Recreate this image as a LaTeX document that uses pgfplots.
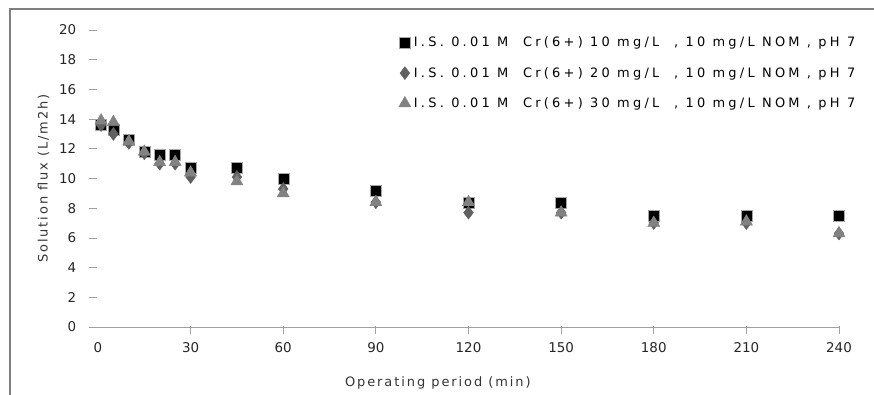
\documentclass[border=0pt]{standalone}
\usepackage{fontspec}
\setmainfont{DejaVu Sans}
\newfontfamily\legfont[LetterSpace=25]{DejaVu Sans}
\newfontfamily\labfont[LetterSpace=15]{DejaVu Sans}
\usepackage{pgfplots}
\pgfplotsset{compat=1.18}
\definecolor{axgray}{HTML}{A0A0A0}
\definecolor{dgray}{HTML}{606060}
\definecolor{mgray}{HTML}{828282}
\begin{document}
\begin{tikzpicture}
\begin{axis}[
  at={(88.7bp,68bp)}, anchor=south west,
  scale only axis, width=750.3bp, height=297bp,
  xmin=-3, xmax=240, ymin=0, ymax=20,
  axis line style={draw=none},
  xtick={30,60,...,240},
  extra x ticks={0}, extra x tick style={major tick length=0pt},
  ytick={0,2,...,20},
  xtick pos=bottom, ytick pos=left,
  tick align=inside, major tick length=8bp,
  ytick style={axgray, line width=0.8pt},
  xtick style={axgray, line width=0.8pt, yshift=-7bp},
  /pgf/number format/assume math mode=true,
  tick label style={font=\fontsize{13.5}{15}\selectfont, text=black!85},
  xticklabel style={yshift=-12bp},
  yticklabel style={xshift=-9bp},
  xlabel={Operating period (min)},
  ylabel={Solution flux (L/m2h)},
  label style={font=\labfont\fontsize{13}{15}\selectfont, text=black!80},
  xlabel style={yshift=-17bp, xshift=-26bp},
  ylabel style={yshift=3bp},
  legend style={draw=none, fill=none, at={(axis cs:96.4,19.8)}, anchor=north west,
    font=\legfont\fontsize{13}{15}\selectfont, row sep=15bp, legend cell align=left,
    nodes={inner xsep=3bp}},
  legend image code/.code={\draw[#1] plot coordinates {(0.2cm,0cm)};},
  clip=false,
]
\draw[axgray, line width=0.8pt] (rel axis cs:0,0) -- (rel axis cs:1,0);
\addplot[only marks, mark=square*, mark size=5.5bp, mark options={fill=black, draw=gray!70, line width=0.4pt}]
 coordinates {(1,13.6)(5,13.3)(10,12.6)(15,11.8)(20,11.6)(25,11.6)(30,10.7)(45,10.7)(60,10.0)(90,9.2)(120,8.4)(150,8.4)(180,7.5)(210,7.5)(240,7.5)};
\addlegendentry{I.S. 0.01 M\ \ Cr(6+) 10 mg/L\ \ , 10 mg/L NOM , pH 7}
\addplot[only marks, mark=diamond*, mark size=6.5bp, mark options={fill=dgray, draw=dgray}]
 coordinates {(1,13.6)(5,13.0)(10,12.4)(15,11.7)(20,11.0)(25,11.0)(30,10.1)(45,10.1)(60,9.3)(90,8.4)(120,7.7)(150,7.7)(180,7.0)(210,7.0)(240,6.3)};
\addlegendentry{I.S. 0.01 M\ \ Cr(6+) 20 mg/L\ \ , 10 mg/L NOM , pH 7}
\addplot[only marks, mark=triangle*, mark size=7bp, mark options={fill=mgray, draw=mgray}]
 coordinates {(1,13.9)(5,13.8)(10,12.5)(15,11.8)(20,11.1)(25,11.1)(30,10.4)(45,9.8)(60,9.0)(90,8.4)(120,8.4)(150,7.7)(180,7.0)(210,7.1)(240,6.3)};
\addlegendentry{I.S. 0.01 M\ \ Cr(6+) 30 mg/L\ \ , 10 mg/L NOM , pH 7}
\end{axis}
\draw[gray, line width=1.2pt] (10bp,0) -- (10bp,386bp) -- (874bp,386bp);
\pgfresetboundingbox
\useasboundingbox (0,0) rectangle (874bp,395bp);
\end{tikzpicture}
\end{document}
